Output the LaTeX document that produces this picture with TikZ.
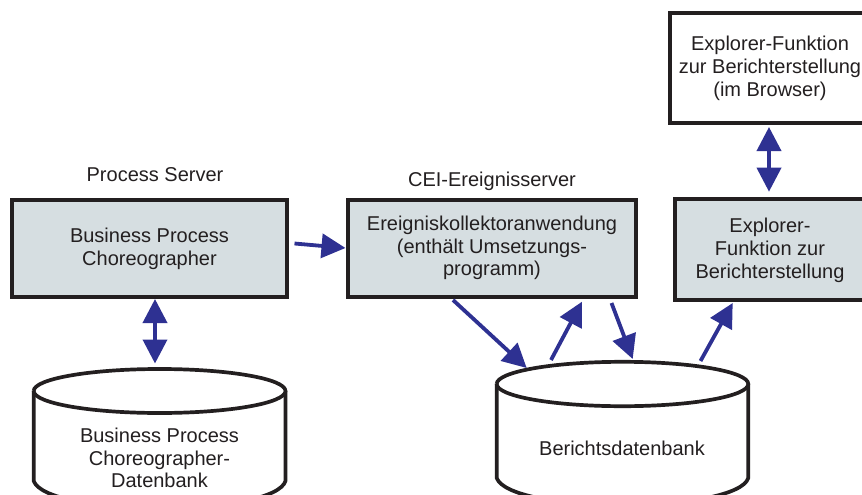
\documentclass[tikz,border=0pt]{standalone}
\usepackage{fontspec}
\setmainfont{Liberation Sans}
\usetikzlibrary{arrows.meta}
\definecolor{flow}{HTML}{2E3192}
\definecolor{ink}{HTML}{231F20}
\definecolor{panel}{HTML}{D6DEE1}
\tikzset{
  x=1pt,y=-1pt,
  lbl/.style={text=ink,align=center,inner sep=0pt,font=\fontsize{20}{22.8}\selectfont},
  boxshape/.style={draw=ink,line width=4pt,rectangle,inner sep=0pt,outer sep=0pt,anchor=north west},
  grey/.style={boxshape,fill=panel},
  white/.style={boxshape,fill=white},
  cyl/.style={draw=ink,line width=3.7pt,fill=white,line join=round},
  oneway/.style={draw=flow,line width=3.8pt,-{Triangle[length=24pt,width=24pt]}},
  twoway/.style={draw=flow,line width=3.8pt,{Triangle[length=24pt,width=24pt]}-{Triangle[length=24pt,width=24pt]}},
}
\begin{document}
\begin{tikzpicture}
\useasboundingbox (0,0) rectangle (862,495);
\clip (0,0) rectangle (862,495);
% boxes
\node[grey,minimum width=275.5pt,minimum height=97pt] (bpc) at (11.5,199.7) {};
\node[grey,minimum width=288pt,minimum height=97pt] (cei) at (348,199.7) {};
\node[grey,minimum width=200pt,minimum height=101pt] (rep) at (674.7,198.5) {};
\node[white,minimum width=205pt,minimum height=110.5pt] (web) at (670,12.7) {};
% cylinders
\draw[cyl] (33.7,391) -- (33.7,481) .. controls (40,498) and (95,508) .. (160,508) .. controls (225,508) and (280,498) .. (285.5,481) -- (285.5,391);
\draw[cyl] (33.7,391) arc[start angle=180,end angle=540,x radius=125.9pt,y radius=22pt];
\draw[cyl] (496.7,384) -- (496.7,478) .. controls (503,495) and (558,505) .. (622,505) .. controls (686,505) and (743,495) .. (748.3,478) -- (748.3,384);
\draw[cyl] (496.7,384) arc[start angle=180,end angle=540,x radius=125.8pt,y radius=22.2pt];
% texts
\node[lbl] (tbpc) at (149.5,249) {Business Process\\Choreographer};
\node[lbl] (tcei) at (492,248) {Ereigniskollektoranwendung\\(enthält Umsetzungs-\\programm)};
\node[lbl] (trep) at (770,250.5) {Explorer-\\Funktion zur\\Berichterstellung};
\node[lbl] (tweb) at (770,68.5) {Explorer-Funktion\\zur Berichterstellung\\(im Browser)};
\node[lbl] (tdb1) at (159.5,458) {Business Process\\Choreographer-\\Datenbank};
\node[lbl] (tdb2) at (622,448.5) {Berichtsdatenbank};
\node[lbl] (ps) at (155,174.5) {Process Server};
\node[lbl] (ces) at (492,181.5) {CEI-Ereignisserver};
% connector ends
\coordinate (e1a) at (294.5,243.5);
\coordinate (e1b) at (345.5,248);
\coordinate (e2a) at (155,299);
\coordinate (e2b) at (155,363.5);
\coordinate (e3a) at (769,127);
\coordinate (e3b) at (769,191.7);
\coordinate (e4a) at (453,300);
\coordinate (e4b) at (526.7,368);
\coordinate (e5a) at (551,360);
\coordinate (e5b) at (582,301.7);
\coordinate (e6a) at (611.5,303);
\coordinate (e6b) at (632.7,359);
\coordinate (e7a) at (700.5,361);
\coordinate (e7b) at (732.7,303);
% connectors
\draw[oneway] (e1a) -- (e1b);
\draw[twoway] (e2a) -- (e2b);
\draw[twoway] (e3a) -- (e3b);
\draw[oneway] (e4a) -- (e4b);
\draw[oneway] (e5a) -- (e5b);
\draw[oneway] (e6a) -- (e6b);
\draw[oneway] (e7a) -- (e7b);
\end{tikzpicture}
\end{document}
